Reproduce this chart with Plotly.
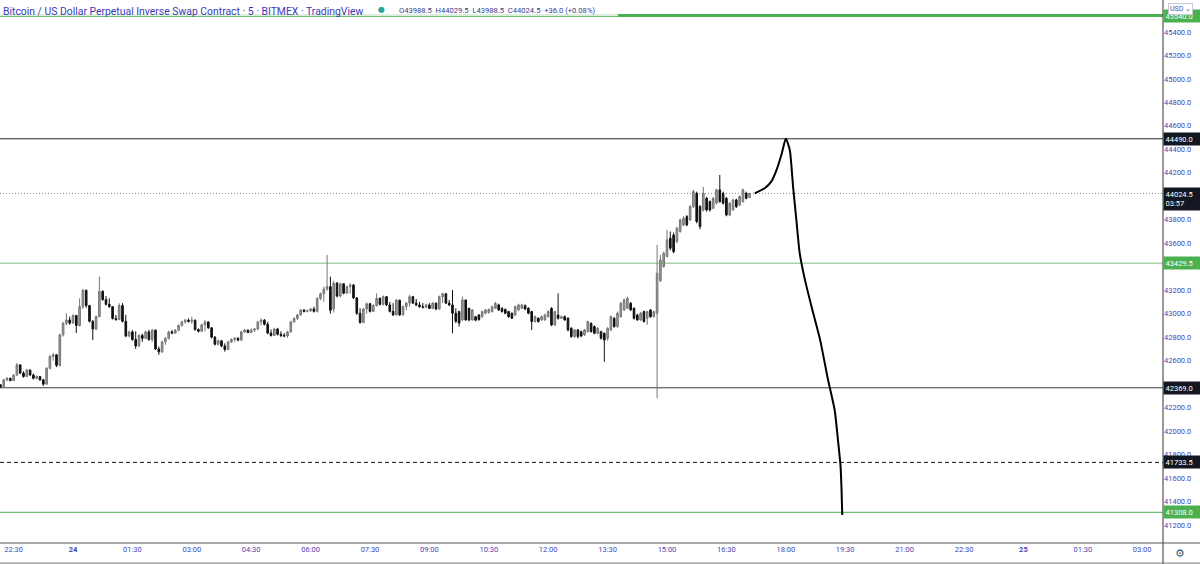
import plotly.graph_objects as go
import pandas as pd

# ---------------- data (5-minute candles, 23 Mar 22:10 -> 24 Mar 17:05) ----------------
candle_start = "2022-03-23 22:10"
open_ = [42395,42380,42436,42450,42430,42478,42564,42495,42465,42520,42478,42450,42465,42436,42400,42535,42635,42650,42560,42819,
         42918,42947,42920,42985,42900,43060,43200,43070,42935,42870,42975,43190,43120,43080,43060,42960,42950,43070,42935,42810,
         42845,42780,42725,42815,42790,42845,42780,42860,42700,42675,42760,42790,42845,42835,42860,42900,42930,42945,42935,42945,
         42865,42850,42905,42930,42880,42800,42740,42770,42725,42695,42760,42780,42790,42775,42845,42860,42840,42860,42870,42930,
         42945,42910,42835,42815,42870,42825,42815,42810,42845,42930,42960,42990,43030,43020,43025,43040,43020,43130,43170,43210,
         43230,43040,43260,43150,43255,43175,43230,43245,43135,43004,42925,43040,43085,43020,43070,43130,43080,43145,43075,43020,
         42990,43115,42990,43060,43090,43145,43090,43075,43060,43055,43075,43045,43090,43040,43145,43170,43090,43075,43004,43018,
         42947,43117,43046,42947,42975,42990,42975,43004,43010,43018,43046,43075,43046,43035,43018,43004,42989,43032,43046,43068,
         43046,43018,42933,42961,42947,42947,42975,43046,42904,42989,42961,42975,42961,42876,42805,42862,42847,42819,42847,42918,
         42890,42833,42847,42833,42791,42862,42961,42890,42975,43032,43046,43089,43046,42989,42947,43018,42961,43032,42975,43004,
         43280,43402,43487,43643,43671,43614,43700,43756,43827,43799,43912,44026,43912,43884,43983,43955,43898,43941,44055,44026,
         43983,43841,43884,43969,43927,43955,44026,43988.5]
high_ = [42400,42445,42460,42455,42485,42580,42570,42510,42530,42525,42490,42475,42470,42445,42545,42650,42665,42655,42830,42930,
         43004,42975,42995,42990,43131,43210,43205,43075,42945,42985,43316,43200,43150,43131,43065,42990,43089,43090,42990,42855,
         42860,42850,42825,42830,42855,42862,42870,42865,42720,42770,42800,42855,42862,42870,42910,42940,42955,42960,42975,42950,
         42875,42915,42945,42935,42885,42810,42780,42775,42748,42770,42790,42800,42800,42855,42870,42865,42875,42880,42940,42960,
         42955,42930,42865,42880,42880,42850,42835,42855,42940,42970,43000,43040,43040,43035,43050,43060,43140,43180,43230,43500,
         43316,43280,43270,43265,43260,43240,43260,43250,43140,43046,43050,43095,43090,43080,43174,43140,43155,43150,43100,43090,
         43125,43120,43070,43100,43160,43150,43125,43100,43090,43085,43090,43100,43095,43155,43180,43175,43117,43202,43046,43025,
         43146,43120,43050,43040,42980,42995,43025,43040,43045,43070,43100,43085,43055,43045,43025,43010,43070,43085,43085,43080,
         43055,43025,42985,42970,42985,43000,43030,43055,43025,43174,42985,42985,42970,42885,42870,42870,42855,42870,42940,42925,
         42900,42885,42855,42840,42885,42985,42970,43018,43100,43130,43146,43100,43055,43000,43015,43025,43025,43040,43025,43586,
         43500,43530,43714,43700,43690,43740,43810,43830,43840,43925,44055,44040,43925,44080,43995,43965,43995,44065,44182,44040,
         43995,43950,43980,43980,44010,44065,44040,44029.5]
low_ = [42370,42375,42425,42425,42428,42470,42485,42455,42460,42470,42440,42440,42430,42385,42395,42525,42600,42545,42550,42805,
        42900,42905,42915,42835,42890,43040,43050,42925,42776,42860,42970,43110,43070,43050,42950,42940,42945,42925,42800,42800,
        42770,42700,42715,42760,42785,42770,42760,42690,42650,42665,42735,42780,42825,42830,42850,42890,42915,42925,42915,42855,
        42840,42845,42850,42870,42790,42730,42730,42715,42677,42690,42750,42760,42765,42770,42840,42835,42835,42845,42860,42900,
        42900,42825,42805,42810,42815,42800,42800,42795,42840,42925,42945,42985,43010,43012,43015,43010,43010,43115,43100,43195,
        43000,43010,43140,43140,43165,43170,43170,43125,42990,42915,42920,43000,43010,43015,43060,43070,43070,43065,43010,42980,
        42985,42980,42985,43030,43060,43085,43065,43050,43045,43045,43040,43040,43030,43035,43090,43085,43065,42833,42920,42890,
        42940,42940,42935,42940,42935,42940,42965,42995,43000,43010,43040,43025,43010,42995,42965,42955,42980,43025,43040,43030,
        42995,42862,42925,42925,42940,42940,42965,42895,42895,42950,42955,42940,42850,42795,42795,42790,42800,42810,42840,42840,
        42825,42825,42780,42590,42770,42850,42880,42880,42965,43025,43040,43025,42950,42940,42940,42925,42905,42965,42965,42280,
        43270,43390,43480,43540,43515,43600,43690,43745,43745,43790,43900,43770,43720,43870,43870,43870,43890,43930,43945,43930,
        43830,43830,43875,43900,43915,43945,43975,43988.5]
close_ = [42375,42436,42450,42430,42478,42564,42495,42465,42520,42478,42450,42465,42436,42400,42535,42635,42650,42560,42819,42918,
          42947,42920,42985,42900,43060,43200,43070,42935,42870,42975,43190,43120,43080,43060,42960,42950,43070,42935,42810,42845,
          42780,42725,42815,42790,42845,42780,42860,42700,42675,42760,42790,42845,42835,42860,42900,42930,42945,42935,42945,42865,
          42850,42905,42930,42880,42800,42740,42770,42725,42695,42760,42780,42790,42775,42845,42860,42840,42860,42870,42930,42945,
          42910,42835,42815,42870,42825,42815,42810,42845,42930,42960,42990,43030,43020,43025,43040,43020,43130,43170,43210,43230,
          43030,43260,43150,43255,43175,43230,43245,43135,43004,42925,43040,43085,43020,43070,43130,43080,43145,43075,43020,42990,
          43115,42990,43060,43090,43145,43090,43075,43060,43055,43075,43045,43090,43040,43145,43170,43090,43075,43004,42935,42920,
          43117,42947,42947,43032,42945,42950,43018,43032,43035,43060,43089,43032,43018,43004,42975,42961,43060,43075,43075,43040,
          43004,42933,42975,42933,42975,42989,43018,42904,43018,42961,42975,42947,42862,42805,42862,42805,42810,42862,42933,42847,
          42833,42876,42791,42776,42876,42975,42890,43004,43089,43117,43131,43032,42961,42947,43004,42933,43018,42975,43018,43345,
          43458,43515,43629,43558,43529,43728,43799,43813,43756,43912,44040,43785,43742,44026,43884,43884,43983,44055,43955,43941,
          43841,43941,43969,43912,43998,44055,43983,44024.5]

# hand-drawn projection path
proj_time = ["2022-03-24 17:13", "2022-03-24 17:28", "2022-03-24 17:38", "2022-03-24 17:46", "2022-03-24 17:54",
             "2022-03-24 18:00", "2022-03-24 18:06", "2022-03-24 18:11", "2022-03-24 18:16", "2022-03-24 18:21",
             "2022-03-24 18:29", "2022-03-24 18:39", "2022-03-24 18:52", "2022-03-24 19:04", "2022-03-24 19:14",
             "2022-03-24 19:19", "2022-03-24 19:23", "2022-03-24 19:24:36", "2022-03-24 19:25:30"]
proj_price = [44025, 44069, 44125, 44225, 44367, 44490, 44395, 44082, 43799, 43518,
              43288, 43060, 42777, 42436, 42180, 41925, 41697, 41473, 41286]

# horizontal levels
levels_price = [45540, 44490, 44024.5, 43429.5, 42369, 41733.5, 41308]
levels_color = ["#4caf50", "#2a2a2a", "#8a8a8a", "#a9d3a9", "#3a3a3a", "#1a1a1a", "#6fbf73"]
levels_width = [3, 1, 1, 1.5, 1, 1, 1.2]
levels_dash = ["solid", "solid", "1px,2px", "solid", "solid", "4px,3px", "solid"]
label_bg = ["#4caf50", "#131722", "#131722", "#4caf50", "#131722", "#131722", "#4caf50"]

x_tick_vals = ["2022-03-23 22:30", "2022-03-24 00:00", "2022-03-24 01:30", "2022-03-24 03:00", "2022-03-24 04:30",
               "2022-03-24 06:00", "2022-03-24 07:30", "2022-03-24 09:00", "2022-03-24 10:30", "2022-03-24 12:00",
               "2022-03-24 13:30", "2022-03-24 15:00", "2022-03-24 16:30", "2022-03-24 18:00", "2022-03-24 19:30",
               "2022-03-24 21:00", "2022-03-24 22:30", "2022-03-25 00:00", "2022-03-25 01:30", "2022-03-25 03:00"]
x_tick_text = ["22:30", "<b>24</b>", "01:30", "03:00", "04:30", "06:00", "07:30", "09:00", "10:30", "12:00",
               "13:30", "15:00", "16:30", "18:00", "19:30", "21:00", "22:30", "<b>25</b>", "01:30", "03:00"]
y_tick_vals = [41200, 41400, 41600, 41800, 42000, 42200, 42600, 42800, 43000, 43200,
               43600, 43800, 44200, 44400, 44600, 44800, 45000, 45200, 45400]

x_range = ["2022-03-23 22:09:24", "2022-03-25 03:31:30"]
y_range = [41047, 45672]

times = pd.date_range(candle_start, periods=len(close_), freq="5min")

# ---------------- figure ----------------
fig = go.Figure()
fig.add_trace(go.Candlestick(
    x=times, open=open_, high=high_, low=low_, close=close_,
    increasing=dict(line=dict(color="#767676", width=1), fillcolor="#9c9c9c"),
    decreasing=dict(line=dict(color="#111111", width=1), fillcolor="#111111"),
    whiskerwidth=0, showlegend=False, hoverinfo="skip"))
fig.add_trace(go.Scatter(x=proj_time, y=proj_price, mode="lines",
                         line=dict(color="#000000", width=2, shape="spline", smoothing=0.6),
                         showlegend=False, hoverinfo="skip"))

tick_font = dict(family="Roboto", size=7.5, color="#4646b4")

shapes = []
annotations = []
for p, c, w, d, bg in zip(levels_price, levels_color, levels_width, levels_dash, label_bg):
    shapes.append(dict(type="line", xref="paper", x0=0, x1=1, yref="y", y0=p, y1=p,
                       line=dict(color=c, width=w, dash=d), layer="below"))
    if p == 44024.5:
        annotations.append(dict(xref="paper", x=1.0, yref="y", y=p, xanchor="left", yanchor="top",
                                yshift=6, text=f"{p:.1f}<br>03:57", showarrow=False, bgcolor=bg, width=33,
                                font=dict(family="Roboto", size=7.5, color="#ffffff"), borderpad=1.5,
                                align="left"))
    else:
        annotations.append(dict(xref="paper", x=1.0, yref="y", y=p, xanchor="left", yanchor="middle",
                                text=f"{p:.1f}", showarrow=False, bgcolor=bg, width=33,
                                font=dict(family="Roboto", size=7.5, color="#ffffff"), borderpad=1.5,
                                align="left"))

# translucent legend backdrop over the top line (as in TradingView)
shapes.append(dict(type="rect", xref="paper", yref="paper", x0=0, x1=618/1163, y0=1 - 16.2/543, y1=1,
                   fillcolor="rgba(255,255,255,0.8)", line=dict(width=0), layer="above"))

# frame lines
shapes.append(dict(type="line", xref="paper", yref="paper", x0=1, x1=1, y0=-0.04, y1=1,
                   line=dict(color="#555555", width=1.2)))
shapes.append(dict(type="line", xref="paper", yref="paper", x0=0, x1=1.04, y0=0, y1=0,
                   line=dict(color="#555555", width=1.2)))
shapes.append(dict(type="line", xref="paper", yref="paper", x0=0, x1=1.04, y0=-0.037, y1=-0.037,
                   line=dict(color="#777777", width=1)))

# legend/title text
annotations.append(dict(xref="paper", yref="paper", x=0.0, y=1.0, xanchor="left", yanchor="top", yshift=-3, xshift=1,
                        text="Bitcoin / US Dollar Perpetual Inverse Swap Contract · 5 · BITMEX · TradingView",
                        showarrow=False, font=dict(family="Roboto", size=10.4, color="#3a3ab8")))
annotations.append(dict(xref="paper", yref="paper", x=381/1163, y=1.0, xanchor="center", yanchor="top", yshift=-3,
                        text="●", showarrow=False, font=dict(family="DejaVu Sans", size=8, color="#26a69a")))
annotations.append(dict(xref="paper", yref="paper", x=397/1163, y=1.0, xanchor="left", yanchor="top", yshift=-4,
                        text="O43988.5  H44029.5  L43988.5  C44024.5  +36.0 (+0.08%)",
                        showarrow=False, font=dict(family="Roboto", size=7.6, color="#3d3d8a")))
annotations.append(dict(xref="paper", yref="paper", x=1.0, y=1.0, xanchor="left", yanchor="top", xshift=5, yshift=-3,
                        text="USD ⌄", showarrow=False, bgcolor="#ffffff", bordercolor="#c8c8d8", borderwidth=1,
                        borderpad=1, font=dict(family="Roboto", size=7, color="#4a4ab4")))
annotations.append(dict(xref="paper", yref="paper", x=1.0, y=0.0, xanchor="left", yanchor="middle", xshift=10, yshift=-10,
                        text="⚙", showarrow=False, font=dict(family="DejaVu Sans", size=11, color="#555555")))

fig.update_layout(
    width=1200, height=564,
    margin=dict(l=0, r=37, t=0, b=21, pad=0, autoexpand=False),
    paper_bgcolor="#ffffff", plot_bgcolor="#ffffff",
    shapes=shapes, annotations=annotations,
    xaxis=dict(type="date", range=x_range, rangeslider=dict(visible=False), showgrid=False, zeroline=False,
               tickmode="array", tickvals=x_tick_vals, ticktext=x_tick_text, tickfont=tick_font,
               ticks="", showline=False, automargin=False, fixedrange=True),
    yaxis=dict(side="right", range=y_range, showgrid=False, zeroline=False, tickmode="array",
               tickvals=y_tick_vals, tickformat=".1f", tickfont=tick_font, ticks="", showline=False,
               automargin=False),
    hovermode=False,
)

fig.write_html("out.html", config={"displayModeBar": False},
               post_script="document.body.style.margin='0';document.body.style.overflow='hidden';")
